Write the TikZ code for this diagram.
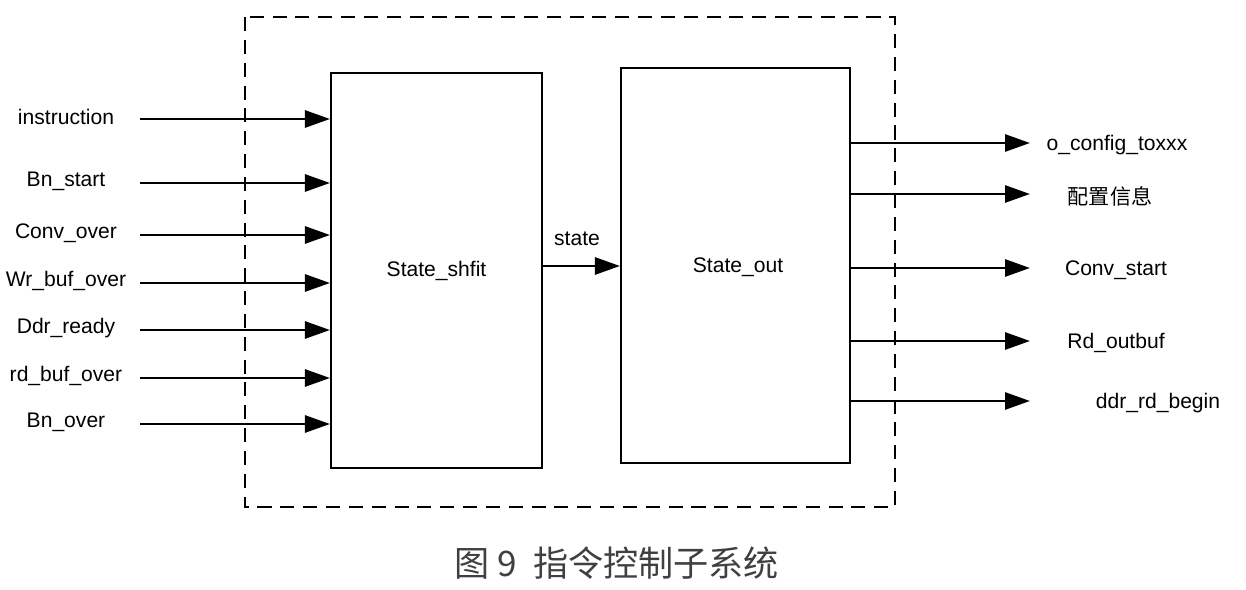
\documentclass[tikz,border=0pt]{standalone}
\usepackage{fontspec}
\setmainfont{Liberation Sans}
\newfontfamily\cjk{Noto Sans CJK SC}
\usetikzlibrary{positioning}
\usetikzlibrary{arrows.meta}
\tikzset{
  sig/.style={-{Triangle[length=0.5cm,width=0.34cm]}, line width=1.6pt},
  blk/.style={draw, line width=1.2pt, inner sep=0pt},
  lbl/.style={font=\large}
}
\begin{document}
\begin{tikzpicture}[x=0.02cm, y=-0.02cm]

        \useasboundingbox (0,0) rectangle (1246,590);

        % Outer dashed frame
        \draw[dashed, line width=1.4pt, dash pattern=on 8pt off 5pt] (245,17) rectangle (895,507);

        % Blocks
        \node[blk, minimum width=4.22cm, minimum height=7.9cm] (shift) at (436.5,270.5) {\large State\_shfit};
        \node[blk, minimum width=4.58cm, minimum height=7.9cm] (out) at (735.5,265.5) {};
        \node[lbl] at (738,267) {State\_out};

        % Inputs
        \foreach \y/\t in {119/instruction, 183/Bn\_start, 235/Conv\_over, 283/Wr\_buf\_over,
                           330/Ddr\_ready, 378/rd\_buf\_over, 424/Bn\_over} {
          \node[lbl] (in\y) at (66,\y-2) {\t};
          \coordinate (a\y) at (140,\y);
          \draw[sig] (a\y) -- (a\y -| shift.west);
        }

        % Link between blocks
        \coordinate (s) at (542,266);
        \draw[sig] (s) -- (s -| out.west);
        \node[lbl] (state) at (577,239) {state};

        % Outputs
        \foreach \y/\x/\t in {143/1117/o\_config\_toxxx, 194/1110/{\cjk 配置信息},
                              268/1116/Conv\_start, 341/1116/Rd\_outbuf, 401/1158/ddr\_rd\_begin} {
          \coordinate (b\y) at (850,\y);
          \draw[sig] (b\y) -- (1030,\y);
          \node[lbl] (o\y) at (\x,\y+2) {\t};
        }

        % Caption
        \node[font=\cjk\fontsize{20}{24}\selectfont, text=black!75] (cap) at (617,563) {图 9\ \ 指令控制子系统};

\end{tikzpicture}
\end{document}
